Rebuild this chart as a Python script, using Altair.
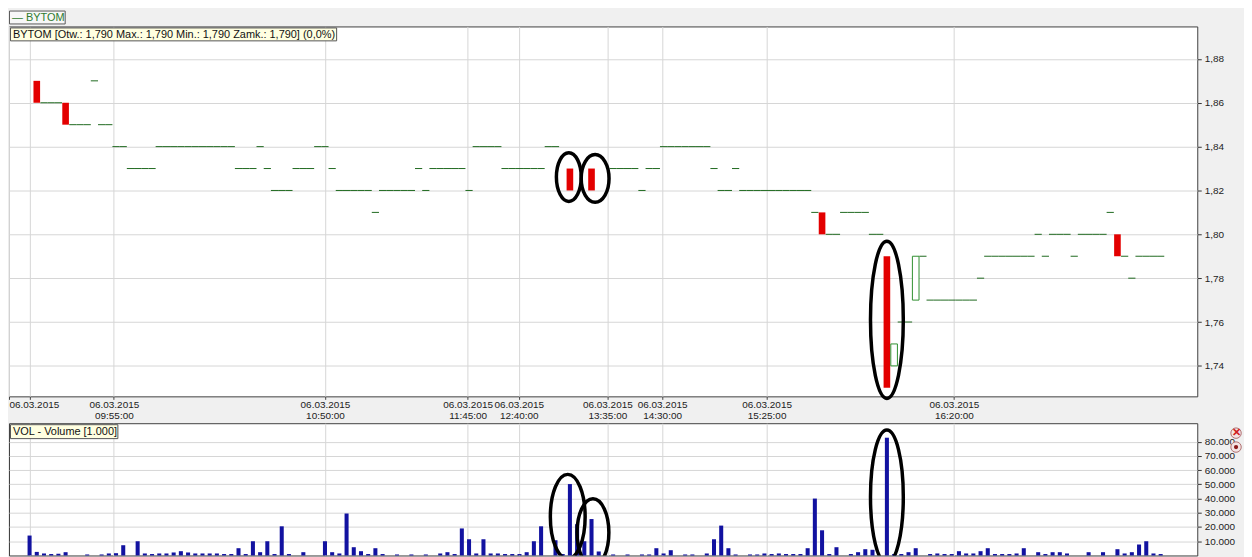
import altair as alt
import pandas as pd

# ---------------- data (one slot = one traded minute) ----------------
price_open = [
    None, 1.87, 1.86, 1.86, 1.86, 1.86, 1.85, 1.85, 1.85, 1.87,
    1.85, 1.85, 1.84, 1.84, 1.83, 1.83, 1.83, 1.83, 1.84, 1.84,
    1.84, 1.84, 1.84, 1.84, 1.84, 1.84, 1.84, 1.84, 1.84, 1.83,
    1.83, 1.83, 1.84, 1.83, 1.82, 1.82, 1.82, 1.83, 1.83, 1.83,
    1.84, 1.84, 1.83, 1.82, 1.82, 1.82, 1.82, 1.82, 1.81, 1.82,
    1.82, 1.82, 1.82, 1.82, 1.83, 1.82, 1.83, 1.83, 1.83, 1.83,
    1.83, 1.82, 1.84, 1.84, 1.84, 1.84, 1.83, 1.83, 1.83, 1.83,
    1.83, 1.83, 1.84, 1.84, None, 1.83, None, None, 1.83, None,
    None, 1.83, 1.83, 1.83, 1.83, 1.82, 1.83, 1.83, 1.84, 1.84,
    1.84, 1.84, 1.84, 1.84, 1.84, 1.83, 1.82, 1.82, 1.83, 1.82,
    1.82, 1.82, 1.82, 1.82, 1.82, 1.82, 1.82, 1.82, 1.82, 1.81,
    1.81, 1.80, 1.80, 1.81, 1.81, 1.81, 1.81, 1.80, 1.80, 1.79,
    1.74, 1.76, 1.76, 1.77, 1.79, 1.77, 1.77, 1.77, 1.77, 1.77,
    1.77, 1.77, 1.78, 1.79, 1.79, 1.79, 1.79, 1.79, 1.79, 1.79,
    1.80, 1.79, 1.80, 1.80, 1.80, 1.79, 1.80, 1.80, 1.80, 1.80,
    1.81, 1.80, 1.79, 1.78, 1.79, 1.79, 1.79, 1.79,
]
price_close = [
    None, 1.86, 1.86, 1.86, 1.86, 1.85, 1.85, 1.85, 1.85, 1.87,
    1.85, 1.85, 1.84, 1.84, 1.83, 1.83, 1.83, 1.83, 1.84, 1.84,
    1.84, 1.84, 1.84, 1.84, 1.84, 1.84, 1.84, 1.84, 1.84, 1.83,
    1.83, 1.83, 1.84, 1.83, 1.82, 1.82, 1.82, 1.83, 1.83, 1.83,
    1.84, 1.84, 1.83, 1.82, 1.82, 1.82, 1.82, 1.82, 1.81, 1.82,
    1.82, 1.82, 1.82, 1.82, 1.83, 1.82, 1.83, 1.83, 1.83, 1.83,
    1.83, 1.82, 1.84, 1.84, 1.84, 1.84, 1.83, 1.83, 1.83, 1.83,
    1.83, 1.83, 1.84, 1.84, None, 1.82, None, None, 1.82, None,
    None, 1.83, 1.83, 1.83, 1.83, 1.82, 1.83, 1.83, 1.84, 1.84,
    1.84, 1.84, 1.84, 1.84, 1.84, 1.83, 1.82, 1.82, 1.83, 1.82,
    1.82, 1.82, 1.82, 1.82, 1.82, 1.82, 1.82, 1.82, 1.82, 1.81,
    1.80, 1.80, 1.80, 1.81, 1.81, 1.81, 1.81, 1.80, 1.80, 1.73,
    1.75, 1.76, 1.76, 1.79, 1.79, 1.77, 1.77, 1.77, 1.77, 1.77,
    1.77, 1.77, 1.78, 1.79, 1.79, 1.79, 1.79, 1.79, 1.79, 1.79,
    1.80, 1.79, 1.80, 1.80, 1.80, 1.79, 1.80, 1.80, 1.80, 1.80,
    1.81, 1.79, 1.79, 1.78, 1.79, 1.79, 1.79, 1.79,
]
volumes = [
    14000, 2500, 1400, 1000, 1200, 2300, 0, 0, 700, 0,
    700, 1400, 1600, 7200, 0, 10000, 1400, 1000, 1400, 1400,
    2100, 3000, 2100, 1400, 1400, 1400, 1400, 1000, 1000, 5100,
    1000, 10000, 2300, 10000, 1000, 20500, 1000, 0, 2300, 0,
    0, 10000, 2300, 1400, 29500, 5800, 3000, 1000, 5100, 1000,
    0, 700, 0, 700, 0, 700, 0, 1400, 2300, 1000,
    19000, 11400, 1400, 11400, 1400, 1400, 1000, 1000, 1000, 2300,
    10000, 20500, 0, 10700, 1000, 50200, 22000, 10000, 25600, 2800,
    0, 700, 0, 700, 0, 700, 700, 5100, 1400, 3700,
    0, 700, 700, 0, 1400, 11400, 21000, 5100, 700, 0,
    700, 700, 1400, 1000, 1400, 1000, 1000, 1000, 5100, 40000,
    17700, 1000, 5800, 0, 1000, 2300, 4400, 4000, 0, 82800,
    1000, 1000, 2300, 5100, 0, 1000, 1400, 1000, 1000, 3000,
    1400, 1400, 3000, 5100, 1000, 1000, 1000, 1400, 5100, 0,
    2300, 1000, 2300, 2300, 1400, 0, 0, 2300, 0, 2300,
    0, 4400, 1400, 2300, 7700, 10000, 1400, 1000,
]

date_label = "06.03.2015"
tick_slots = [0, 11.7, 41.0, 60.8, 67.9, 80.2, 87.8, 102.3, 128.3]
tick_times = ["", "09:55:00", "10:50:00", "11:45:00", "12:40:00",
              "13:35:00", "14:30:00", "15:25:00", "16:20:00"]
price_ticks = [1.74, 1.76, 1.78, 1.80, 1.82, 1.84, 1.86, 1.88]
volume_ticks = [10000, 20000, 30000, 40000, 50000, 60000, 70000, 80000]

info_text = "BYTOM [Otw.: 1,790 Max.: 1,790 Min.: 1,790 Zamk.: 1,790] (0,0%)"
legend_text = "\u2014 BYTOM"
vol_text = "VOL - Volume [1.000]"

# hand-drawn highlight ellipses (centre in data units)
hl_price_slot = [74.85, 78.5, 119.0]
hl_price_value = [1.8261, 1.8255, 1.761]
hl_vol_slot = [74.7, 78.2, 119.0]
hl_vol_value = [27300, 16100, 41300]

# ---------------- layout / style ----------------
XMIN, XMAX = -2.857, 162.08
W, PH, VH = 1195, 372, 133
FONT = "Liberation Sans"
GRID = "#d6d6d6"
hl_price_w, hl_price_h = [25, 28, 33], [49, 48, 158]
hl_vol_w, hl_vol_h = [35, 32, 33], [85, 68, 134]


def ellipse_path(w, h):
    a = w / h
    return (f"M {-a:.4f} 0 A {a:.4f} 1 0 1 1 {a:.4f} 0 "
            f"A {a:.4f} 1 0 1 1 {-a:.4f} 0 Z")


df = pd.DataFrame({"slot": list(range(len(volumes))), "open": price_open,
                   "close": price_close, "volume": volumes})

xscale = alt.Scale(domain=[XMIN, XMAX], nice=False, zero=False)
yscale = alt.Scale(domain=[1.7261, 1.8948], nice=False, zero=False)
vscale = alt.Scale(domain=[0, 93000], nice=False, zero=False)

parts = []
for s, t in zip(tick_slots, tick_times):
    if t:
        parts.append(f"abs(datum.value - {s}) < 0.01 ? ['{date_label}', '{t}'] : ")
label_expr = f"datum.value < {XMIN + 0.01} ? '{date_label}' : " + "".join(parts) + "''"

x_axis = alt.Axis(values=[XMIN] + tick_slots, labelExpr=label_expr, title=None,
                  grid=True, gridColor=GRID, tickColor="#444", tickSize=3,
                  labelPadding=0, labelFontSize=10, labelFont=FONT, labelColor="#222",
                  labelLineHeight=11, labelOverlap=False, labelFlush=True,
                  domain=False, labelBaseline="top")
x_axis_v = alt.Axis(values=tick_slots, labels=False, ticks=False, domain=False,
                    grid=True, gridColor=GRID, title=None)
y_axis = alt.Axis(orient="right", values=price_ticks,
                  labelExpr="replace(format(datum.value, '.2f'), '.', ',')",
                  title=None, grid=True, gridColor=GRID, tickSize=4, tickColor="#333",
                  labelPadding=3, labelFontSize=10, labelFont=FONT, labelColor="#222",
                  domain=False, labelOverlap=False)
v_axis = alt.Axis(orient="right", values=volume_ticks,
                  labelExpr="replace(format(datum.value, ',d'), ',', '.')",
                  title=None, grid=True, gridColor=GRID, tickSize=4, tickColor="#333",
                  labelPadding=3, labelFontSize=10, labelFont=FONT, labelColor="#222",
                  domain=False, labelOverlap=False)

base = alt.Chart(df).transform_calculate(
    xl="datum.slot - 0.5", xr="datum.slot + 0.5",
    bl="datum.slot - 0.46", br="datum.slot + 0.46",
    vl="datum.slot - 0.28", vr="datum.slot + 0.28", v0="0")

doji = base.transform_filter("isValid(datum.open) && datum.open == datum.close").mark_rule(
    color="#1f6a1f", strokeWidth=1).encode(
    x=alt.X("xl:Q", scale=xscale, axis=x_axis), x2="xr:Q",
    y=alt.Y("open:Q", scale=yscale, axis=y_axis))

down = base.transform_filter("isValid(datum.open) && datum.close < datum.open").mark_bar(
    color="#e30000").encode(
    x=alt.X("bl:Q", scale=xscale, axis=x_axis), x2="br:Q",
    y=alt.Y("open:Q", scale=yscale, axis=y_axis), y2="close:Q")

up = base.transform_filter("isValid(datum.open) && datum.close > datum.open").mark_bar(
    fill="white", stroke="#2f8f2f", strokeWidth=1).encode(
    x=alt.X("bl:Q", scale=xscale, axis=x_axis), x2="br:Q",
    y=alt.Y("open:Q", scale=yscale, axis=y_axis), y2="close:Q")

hl_p = pd.DataFrame({"slot": hl_price_slot, "price": hl_price_value,
                     "shape": [ellipse_path(w, h) for w, h in zip(hl_price_w, hl_price_h)],
                     "sz": [h * h for h in hl_price_h]})
price_hl = alt.Chart(hl_p).mark_point(filled=False, stroke="black", strokeWidth=3.5,
                                      opacity=1).encode(
    x=alt.X("slot:Q", scale=xscale, axis=x_axis),
    y=alt.Y("price:Q", scale=yscale, axis=y_axis),
    shape=alt.Shape("shape:N", scale=None), size=alt.Size("sz:Q", scale=None))

one = pd.DataFrame({"k": [0]})
legend_box = alt.Chart(one).mark_rect(fill="#f7f7f7", stroke="#5a5a5a", strokeWidth=1).encode(
    x=alt.value(0.5), x2=alt.value(56.5), y=alt.value(-15.5), y2=alt.value(-2.5))
legend_lbl = alt.Chart(one).mark_text(align="left", baseline="middle", font=FONT,
                                      fontSize=11, color="#2f7a2f").encode(
    x=alt.value(3), y=alt.value(-8.5), text=alt.value(legend_text))
info_box = alt.Chart(one).mark_rect(fill="#ffffe1", stroke="#555555", strokeWidth=1).encode(
    x=alt.value(1.5), x2=alt.value(329.5), y=alt.value(1.5), y2=alt.value(14.5))
info_lbl = alt.Chart(one).mark_text(align="left", baseline="middle", font=FONT,
                                    fontSize=11, color="#111").encode(
    x=alt.value(4), y=alt.value(8.5), text=alt.value(info_text))

price = alt.layer(doji, down, up, price_hl, legend_box, legend_lbl, info_box, info_lbl).properties(
    width=W, height=PH)

vol_bars = base.transform_filter("datum.volume > 0").mark_bar(color="#1212a0").encode(
    x=alt.X("vl:Q", scale=xscale, axis=x_axis_v), x2="vr:Q",
    y=alt.Y("volume:Q", scale=vscale, axis=v_axis), y2="v0:Q")

hl_v = pd.DataFrame({"slot": hl_vol_slot, "vol": hl_vol_value,
                     "shape": [ellipse_path(w, h) for w, h in zip(hl_vol_w, hl_vol_h)],
                     "sz": [h * h for h in hl_vol_h]})
vol_hl = alt.Chart(hl_v).mark_point(filled=False, stroke="black", strokeWidth=3.5,
                                    opacity=1, clip=True).encode(
    x=alt.X("slot:Q", scale=xscale, axis=x_axis_v),
    y=alt.Y("vol:Q", scale=vscale, axis=v_axis),
    shape=alt.Shape("shape:N", scale=None), size=alt.Size("sz:Q", scale=None))

vol_box = alt.Chart(one).mark_rect(fill="#ffffe1", stroke="#555555", strokeWidth=1).encode(
    x=alt.value(1.5), x2=alt.value(109.5), y=alt.value(1.5), y2=alt.value(15.5))
vol_lbl = alt.Chart(one).mark_text(align="left", baseline="middle", font=FONT,
                                   fontSize=11, color="#111").encode(
    x=alt.value(4), y=alt.value(8.5), text=alt.value(vol_text))

icon1 = alt.Chart(one).mark_point(shape="circle", size=110, filled=True, fill="#f3e4e4",
                                  stroke="#b07070", strokeWidth=1, opacity=1).encode(
    x=alt.value(1234), y=alt.value(10))
icon1x = alt.Chart(one).mark_text(font=FONT, fontSize=11, fontWeight="bold", color="#d02020",
                                  baseline="middle").encode(
    x=alt.value(1234), y=alt.value(10), text=alt.value("\u2715"))
icon2 = alt.Chart(one).mark_point(shape="circle", size=110, filled=True, fill="#f3e4e4",
                                  stroke="#b07070", strokeWidth=1, opacity=1).encode(
    x=alt.value(1234), y=alt.value(24))
icon2d = alt.Chart(one).mark_point(shape="circle", size=18, filled=True, fill="#8a1a1a",
                                   opacity=1).encode(x=alt.value(1234), y=alt.value(24))

volume = alt.layer(vol_bars, vol_hl, vol_box, vol_lbl, icon1, icon1x, icon2, icon2d).properties(
    width=W, height=VH)

chart = alt.vconcat(price, volume, spacing=27, bounds="flush").properties(
    background="#f0f0f0", padding=0
).configure(font=FONT).configure_view(fill="white", stroke="#404040", strokeWidth=1)

chart.save("out.html", embed_options={"renderer": "svg", "actions": False})
